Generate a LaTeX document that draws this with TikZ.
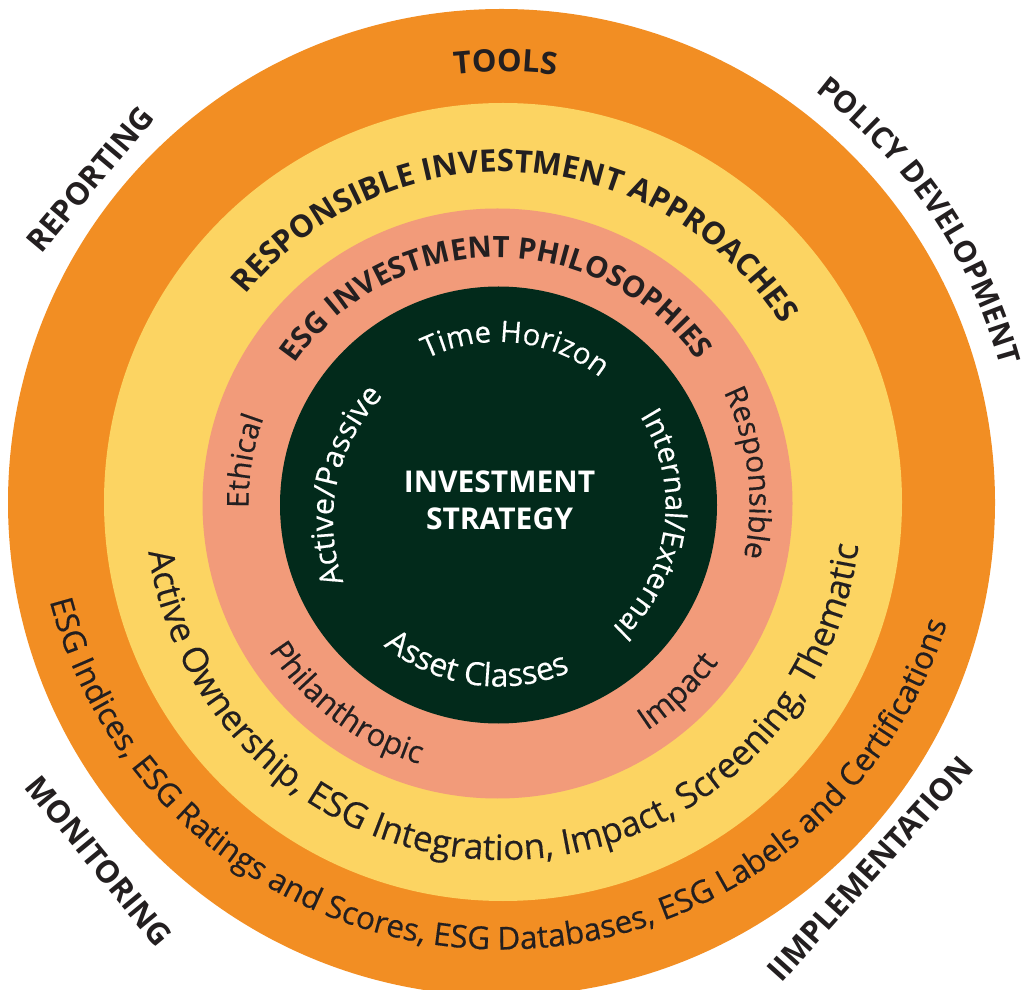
\documentclass[tikz,border=0pt]{standalone}
\usepackage{fontspec}
\setmainfont{Open Sans}
\newfontfamily\medfont{Open Sans}[FakeBold=0.35]
\usetikzlibrary{decorations.text}
\definecolor{ringorange}{HTML}{F28E23}
\definecolor{ringyellow}{HTML}{FCD462}
\definecolor{ringsalmon}{HTML}{F29B7A}
\definecolor{ringgreen}{HTML}{022A1B}
\definecolor{inkdark}{HTML}{231F20}
% clockwise arc text: centre, radius, mid angle, half span, format, text
\newcommand{\cwtext}[6]{%
  \path[shift={#1}, decorate, decoration={text along path, text align=center, text={|#5|#6}}]
    ({#3+#4}:#2) arc[start angle={#3+#4}, end angle={#3-#4}, radius=#2];}
% counter-clockwise arc text
\newcommand{\ccwtext}[6]{%
  \path[shift={#1}, decorate, decoration={text along path, text align=center, text={|#5|#6}}]
    ({#3-#4}:#2) arc[start angle={#3-#4}, end angle={#3+#4}, radius=#2];}
\newcommand{\headfmt}{\bfseries\fontsize{31}{37}\selectfont\color{inkdark}}
\newcommand{\headfmtb}{\bfseries\fontsize{29.5}{35}\selectfont\color{inkdark}}
\newcommand{\headfmtc}{\bfseries\fontsize{30}{36}\selectfont\color{inkdark}}
\newcommand{\innerfmt}{\medfont\fontsize{29.5}{35}\selectfont\color{white}}
\newcommand{\innerfmtb}{\medfont\fontsize{32}{38}\selectfont\color{white}}
\newcommand{\innerfmtc}{\medfont\fontsize{30.5}{36}\selectfont\color{white}}
\newcommand{\salmonfmt}{\medfont\fontsize{30}{36}\selectfont\color{inkdark}}
\newcommand{\salmonfmtb}{\medfont\fontsize{31}{37}\selectfont\color{inkdark}}
\newcommand{\yellowfmt}{\medfont\fontsize{35}{42}\selectfont\color{inkdark}}
\newcommand{\orangefmt}{\medfont\fontsize{31.5}{38}\selectfont\color{inkdark}}
\begin{document}
\begin{tikzpicture}[x=1pt,y=1pt,
  cornerlabel/.style={font=\bfseries\fontsize{31}{37}\selectfont, text=inkdark, inner sep=0pt},
  centrelabel/.style={font=\bfseries\fontsize{30}{37}\selectfont, text=white, align=center, inner sep=0pt}]
\useasboundingbox (0,0) rectangle (1023,989);
\clip (0,0) rectangle (1023,989);
% rings
\fill[ringorange] (501.5,486.5) circle[radius=493.5];
\fill[ringyellow] (503,487) circle[radius=399];
\fill[ringsalmon] (497.5,485.5) circle[radius=295];
\fill[ringgreen] (498.5,484) circle[radius=218.5];
% centre
\node[centrelabel] (strategy) at (499.5,489) {INVESTMENT\\STRATEGY};
% inner ring texts
\cwtext{(498.5,484)}{163}{83.8}{60}{\innerfmt}{Time Horizon}
\cwtext{(514,468)}{181}{168}{60}{\innerfmtc}{Active/Passive}
\cwtext{(498.5,484)}{167}{-7.5}{70}{\innerfmt}{Internal/External}
\ccwtext{(498.5,484)}{181.5}{262}{60}{\innerfmtb}{Asset Classes}
% salmon ring
\cwtext{(497.5,485.5)}{246}{90.5}{85}{\headfmtb}{ESG INVESTMENT PHILOSOPHIES}
\cwtext{(497.5,485.5)}{249}{170.5}{30}{\salmonfmt}{Ethical}
\cwtext{(497.5,485.5)}{252}{7}{40}{\salmonfmt}{Responsible}
\ccwtext{(497.5,485.5)}{272}{233}{40}{\salmonfmtb}{Philanthropic}
\ccwtext{(497.5,485.5)}{272}{313.8}{30}{\salmonfmtb}{Impact}
% yellow ring
\cwtext{(503,487)}{330}{86.8}{85}{\headfmt}{RESPONSIBLE INVESTMENT APPROACHES}
\ccwtext{(503,487)}{358}{270.55}{95}{\yellowfmt}{Active Ownership, ESG Integration, Impact, Screening, Thematic}
% orange ring
\cwtext{(501.5,486.5)}{431}{89.5}{30}{\headfmt}{TOOLS}
\ccwtext{(501.5,506.5)}{467}{268.6}{90}{\orangefmt}{ESG Indices, ESG Ratings and Scores, ESG Databases, ESG Labels and Certifications}
% corner labels
\node[cornerlabel, rotate=50] (reporting) at (90,810) {REPORTING};
\cwtext{(501.5,486.5)}{517}{34}{40}{\headfmtc}{POLICY DEVELOPMENT}
\node[cornerlabel, rotate=-50.5] (monitoring) at (99,128) {MONITORING};
\node[cornerlabel, rotate=48] (implementation) at (870,120) {IIMPLEMENTATION};
\end{tikzpicture}
\end{document}
